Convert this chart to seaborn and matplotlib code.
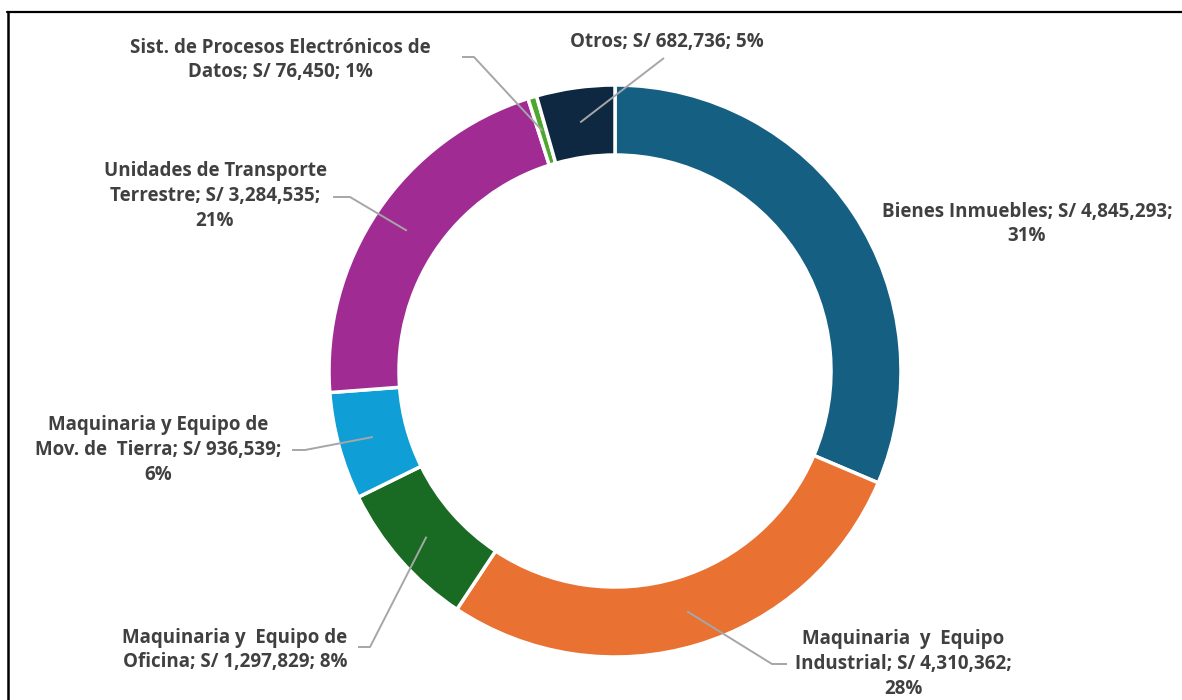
import numpy as np
import matplotlib
matplotlib.use("Agg")
import matplotlib.pyplot as plt
from matplotlib.lines import Line2D
import seaborn as sns

# Composition of assets by category (S/)
categorias = [
    "Bienes Inmuebles",
    "Maquinaria y Equipo Industrial",
    "Maquinaria y Equipo de Oficina",
    "Maquinaria y Equipo de Mov. de Tierra",
    "Unidades de Transporte Terrestre",
    "Sist. de Procesos Electrónicos de Datos",
    "Otros",
]
montos = [4845293, 4310362, 1297829, 936539, 3284535, 76450, 682736]
porcentajes = ["31%", "28%", "8%", "6%", "21%", "1%", "5%"]
etiquetas = [
    "Bienes Inmuebles; S/ 4,845,293;\n31%",
    "Maquinaria  y  Equipo\nIndustrial; S/ 4,310,362;\n28%",
    "Maquinaria y  Equipo de\nOficina; S/ 1,297,829; 8%",
    "Maquinaria y Equipo de\nMov. de  Tierra; S/ 936,539;\n6%",
    "Unidades de Transporte\nTerrestre; S/ 3,284,535;\n21%",
    "Sist. de Procesos Electrónicos de\nDatos; S/ 76,450; 1%",
    "Otros; S/ 682,736; 5%",
]
colores = ["#156082", "#E97132", "#196B24", "#0F9ED5", "#A02B93", "#4EA72E", "#0E2841"]

sns.set_theme(style="white")
plt.rcParams["font.family"] = ["Open Sans", "DejaVu Sans"]

W, H = 1182, 700
fig = plt.figure(figsize=(W / 100, H / 100), dpi=100)
ax = fig.add_axes([0, 0, 1, 1])

cx, cy = 615, H - 371
r_out = 286
ancho = 70

wedges, _ = ax.pie(
    montos,
    colors=sns.color_palette(colores),
    startangle=90,
    counterclock=False,
    radius=r_out,
    center=(cx, cy),
    wedgeprops=dict(width=ancho, edgecolor="white", linewidth=2.5),
)
ax.set_xlim(0, W)
ax.set_ylim(0, H)
ax.set_aspect("equal")
ax.axis("off")

# label centres (image coords, y down) and leader start/elbow points
texto_pos = [
    (1027, 224), (903, 664), (235, 650), (158, 450),
    (215, 196), (280, 60), (667, 42),
]
lideres = [
    None,
    (787, 664, 772),
    (358, 647, 370),
    (292, 450, 305),
    (333, 197, 350),
    (462, 57, 474),
    (664, 58, 664),
]

color_txt = "#404040"
color_lin = "#A6A6A6"
r_mid = r_out - ancho / 2

for w, lab, (tx, ty), lid in zip(wedges, etiquetas, texto_pos, lideres):
    ax.text(tx, H - ty, lab, ha="center", va="center", fontsize=13.5,
            fontweight="bold", color=color_txt, linespacing=1.33)
    if lid is None:
        continue
    ang = np.deg2rad((w.theta1 + w.theta2) / 2)
    ex, ey = cx + r_mid * np.cos(ang), cy + r_mid * np.sin(ang)
    sx, sy, kx = lid
    ax.plot([sx, kx, ex], [H - sy, H - sy, ey], color=color_lin, lw=1.4,
            solid_capstyle="butt", zorder=5)

# outer frame (top and left edges), in figure pixel coordinates
fig.add_artist(Line2D([7 / W, 1.0], [1 - 12 / H, 1 - 12 / H],
                      transform=fig.transFigure, color="black", lw=1.6))
fig.add_artist(Line2D([8 / W, 8 / W], [1 - 12 / H, 0.0],
                      transform=fig.transFigure, color="black", lw=1.8))

fig.savefig("out.png", dpi=100, facecolor="white")
